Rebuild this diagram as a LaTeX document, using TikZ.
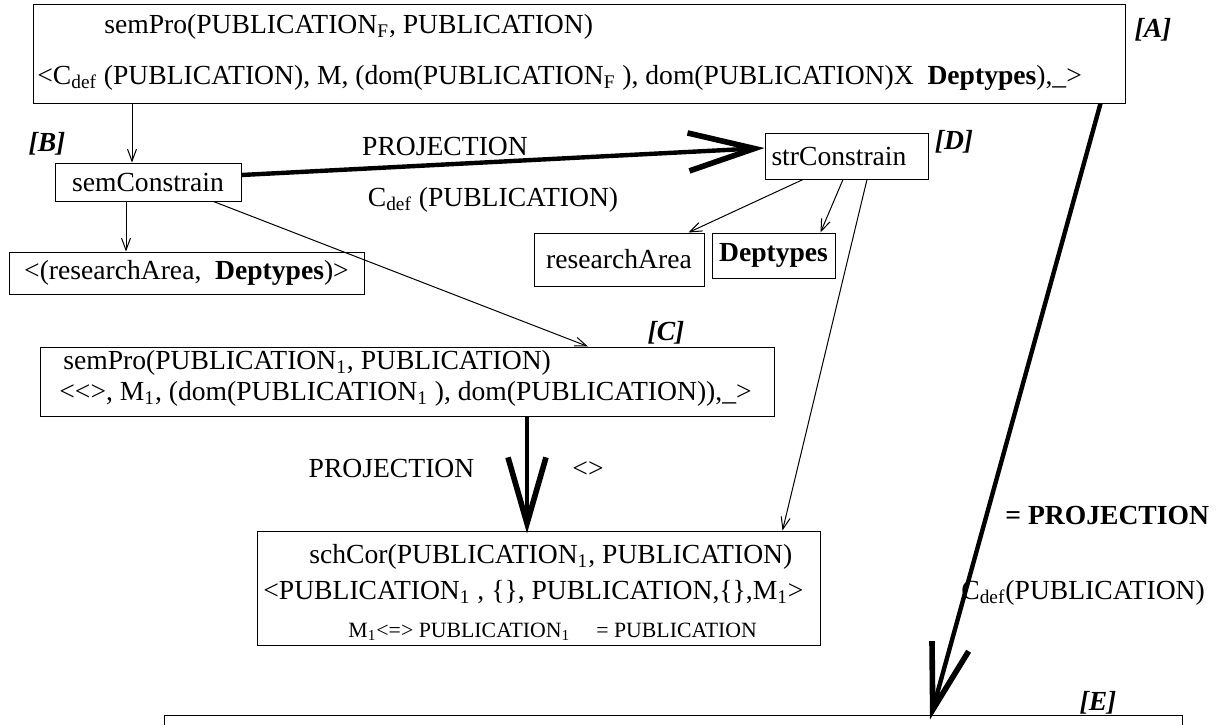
\documentclass[tikz,border=0pt]{standalone}
\usepackage{fontspec}
\setmainfont{Liberation Serif}
\usetikzlibrary{arrows.meta}

\begin{document}
\begin{tikzpicture}[x=0.5pt, y=-0.5pt, font=\fontsize{13.8}{16}\selectfont,
    box/.style={draw, line width=0.5pt, inner sep=0pt},
    txt/.style={anchor=west, inner sep=0pt},
    thin/.style={line width=0.5pt, -{Straight Barb[length=6pt,width=4.5pt]}},
    proj/.style={line width=2.2pt, -{Straight Barb[length=33pt,width=19pt,line width=2.8pt]}},
    tag/.style={inner sep=0pt, font=\fontsize{13.8}{16}\selectfont\bfseries\itshape}]
    \clip (0,0) rectangle (1227,724);
    % Boxes
    \node[box, minimum width=546pt, minimum height=49.5pt] (boxA) at (579,53.5) {};
    \node[box, minimum width=93pt, minimum height=19pt] (semCon) at (148,182) {semConstrain};
    \node[box, minimum width=81.5pt, minimum height=23pt, text width=75pt, align=left] (strCon) at (846.5,156) {strConstrain};
    \node[box, minimum width=85pt, minimum height=26.5pt] (resArea) at (619,259.5) {researchArea};
    \node[box, minimum width=61.5pt, minimum height=22.5pt] (depTypes) at (773.5,255.5) {\textbf{Deptypes}};
    \node[box, minimum width=177.5pt, minimum height=21pt] (resDep) at (186.5,273) {<(researchArea,\ \ \textbf{Deptypes})>};
    \node[box, minimum width=367pt, minimum height=34.5pt] (boxC) at (407,381.5) {};
    \node[box, minimum width=281.5pt, minimum height=57pt] (schCor) at (538.5,588) {};
    \node[box, minimum width=509pt, minimum height=45pt] (boxE) at (673,760) {};
    % Box texts
    \node[txt] (aTop) at (104,27) {semPro(PUBLICATION\textsubscript{F}, PUBLICATION)};
    \node[txt] (aBot) at (37,78) {<C\textsubscript{def} (PUBLICATION), M, (dom(PUBLICATION\textsubscript{F} ), dom(PUBLICATION)X\ \ \textbf{Deptypes}),\_>};
    \node[txt] (cTop) at (63,363) {semPro(PUBLICATION\textsubscript{1}, PUBLICATION)};
    \node[txt] (cBot) at (59,394) {<\kern0pt<\kern0pt>, M\textsubscript{1}, (dom(PUBLICATION\textsubscript{1} ), dom(PUBLICATION)),\_>};
    \node[txt] (sTop) at (309,557) {schCor(PUBLICATION\textsubscript{1}, PUBLICATION)};
    \node[txt] (sMid) at (263,592) {<PUBLICATION\textsubscript{1} , \{\}, PUBLICATION,\{\},M\textsubscript{1}>};
    \node[txt, font=\fontsize{10.9}{13}\selectfont] (sBot) at (348,632) {M\textsubscript{1}<=> PUBLICATION\textsubscript{1}\hspace*{13pt}= PUBLICATION};
    % Tags
    \foreach \n/\x/\y in {A/1153/30, B/47/144, C/666/333, D/954/142, E/1098/703}
    {
    \node[tag] (tag\n) at (\x,\y) {[\n]};
    }
    % Thin arrows
    \draw[thin] ([xshift=-8pt]semCon.north |- boxA.south) -- ([xshift=-8pt]semCon.north);
    \draw[thin] ([xshift=-11pt]semCon.south) -- ([xshift=-11pt]semCon.south |- resDep.north);
    \draw[thin] ([xshift=-14pt]semCon.south east) -- ([xshift=90.5pt]boxC.north);
    \draw[thin] ([xshift=-21.75pt]strCon.south) -- ([xshift=-8pt]resArea.north east);
    \draw[thin] ([xshift=-1.75pt]strCon.south) -- ([xshift=-7.5pt]depTypes.north east);
    \draw[thin] ([xshift=10.25pt]strCon.south) -- ([xshift=-19pt]schCor.north east);
    % Projections
    \draw[proj] ([yshift=3.5pt]semCon.east) -- ([yshift=4pt]strCon.west);
    \draw[proj] ([xshift=60pt]boxC.south) -- ([xshift=60pt,yshift=-1.5pt]boxC.south |- schCor.north);
    \draw[proj] ([xshift=-12.5pt]boxA.south east) -- ([xshift=128.5pt,yshift=-2.5pt]boxE.north);
    % Labels
    \node (projTop) at (445,146) {PROJECTION};
    \node (cdefTop) at (493,200) {C\textsubscript{def} (PUBLICATION)};
    \node (projMid) at (391.5,468) {PROJECTION};
    \node (emptyMid) at (588,470) {<>};
    \node[txt] (projRight) at (1005,515) {\textbf{= PROJECTION}};
    \node[txt] (cdefRight) at (961,593) {C\textsubscript{def}(PUBLICATION)};
\end{tikzpicture}
\end{document}
